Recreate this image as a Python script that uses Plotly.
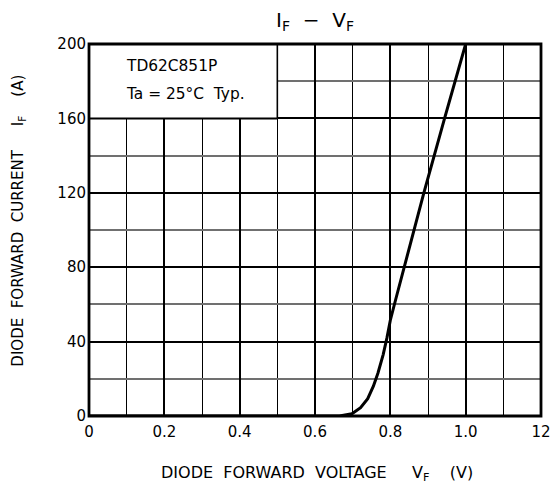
import plotly.graph_objects as go

vf = [0.0, 0.665, 0.698, 0.721, 0.740, 0.755, 0.767, 0.781, 0.791, 0.800, 0.814, 0.863, 0.889, 0.944, 1.0]
i_f = [0.0, 0.0, 1.2, 4.5, 9.3, 16.0, 23.0, 33.0, 42.0, 51.5, 62.5, 100.0, 120.0, 160.0, 200.0]

x_tickvals = [0, 0.2, 0.4, 0.6, 0.8, 1.0, 1.2]
x_ticktext = ["0", "0.2", "0.4", "0.6", "0.8", "1.0", "12"]
y_tickvals = [0, 40, 80, 120, 160, 200]
y_ticktext = ["0", "40", "80", "120", "160", "200"]

FONT = "DejaVu Sans"
sp = "\u00a0"

fig = go.Figure()
fig.add_trace(go.Scatter(x=vf, y=i_f, mode="lines",
                         line=dict(color="black", width=3), showlegend=False,
                         hoverinfo="skip"))

fig.update_layout(
    width=551, height=483,
    margin=dict(l=89, r=10, t=44, b=67),
    paper_bgcolor="white", plot_bgcolor="white",
    font=dict(family=FONT, color="black"),
    title=dict(text=f"I<sub>F</sub>{sp*2}−{sp*2}V<sub>F</sub>", x=(89 + 541) / 2 / 551, xanchor="center",
               y=1 - 20 / 483, yanchor="middle", font=dict(size=20, family=FONT)),
)

fig.update_xaxes(
    range=[0, 1.2], tickvals=x_tickvals, ticktext=x_ticktext,
    showgrid=True, gridcolor="black", gridwidth=1.6,
    minor=dict(dtick=0.1, tick0=0, showgrid=True, gridcolor="black", gridwidth=1.3),
    zeroline=False, showline=False, ticks="", ticklen=0, automargin=False,
    ticklabelstandoff=5,
    tickfont=dict(size=15, family=FONT),
)
fig.update_yaxes(
    range=[0, 200], tickvals=y_tickvals, ticktext=y_ticktext,
    showgrid=True, gridcolor="black", gridwidth=2,
    minor=dict(dtick=20, tick0=0, showgrid=True, gridcolor="#707070", gridwidth=1.5),
    zeroline=False, showline=False, ticks="", ticklen=0, automargin=False,
    ticklabelstandoff=2,
    tickfont=dict(size=15, family=FONT),
)

# axis titles
fig.add_annotation(x=0.5055, y=-0.155, xref="paper", yref="paper",
                   text=f"DIODE{sp*2}FORWARD{sp*2}VOLTAGE{sp*5}V<sub>F</sub>{sp*4}(V)",
                   showarrow=False, xanchor="center", yanchor="middle",
                   font=dict(size=16, family=FONT))
fig.add_annotation(x=-0.155, y=0.525, xref="paper", yref="paper", textangle=-90,
                   text=f"DIODE{sp*2}FORWARD{sp*2}CURRENT{sp*5}I<sub>F</sub>{sp*4}(A)",
                   showarrow=False, xanchor="center", yanchor="middle",
                   font=dict(size=15, family=FONT))

# white box over the grid (legend area)
fig.add_shape(type="rect", x0=0, x1=0.5, y0=160, y1=200, xref="x", yref="y",
              fillcolor="white", line=dict(width=0), layer="above")
fig.add_shape(type="line", x0=0.5, x1=0.5, y0=160, y1=200, xref="x", yref="y",
              line=dict(color="black", width=1.6), layer="above")
fig.add_shape(type="line", x0=0, x1=0.5, y0=160, y1=160, xref="x", yref="y",
              line=dict(color="black", width=2), layer="above")
# frame
fig.add_shape(type="rect", x0=0, x1=1, y0=0, y1=1, xref="paper", yref="paper",
              line=dict(color="black", width=2.8), fillcolor="rgba(0,0,0,0)", layer="above")

fig.add_annotation(x=0.093, y=188, xref="x", yref="y", text="TD62C851P", showarrow=False,
                   xanchor="left", yanchor="middle", font=dict(size=15.4, family=FONT))
fig.add_annotation(x=0.093, y=173, xref="x", yref="y", text=f"Ta{sp}={sp}25°C{sp}{sp}Typ.", showarrow=False,
                   xanchor="left", yanchor="middle", font=dict(size=15.4, family=FONT))

fig.write_html("out.html", config={"displayModeBar": False},
               post_script="document.body.style.margin='0px';document.body.style.overflow='hidden';")
